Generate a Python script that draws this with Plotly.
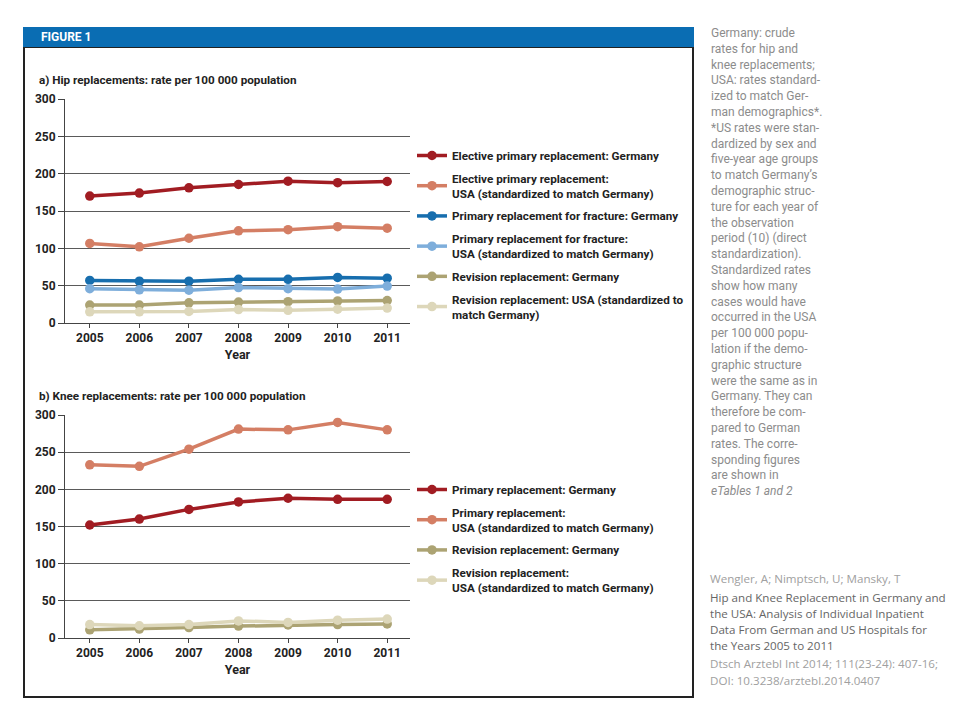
import plotly.graph_objects as go

# ---------------- data ----------------
years = [2005, 2006, 2007, 2008, 2009, 2010, 2011]

hip_elective_de = [170, 174, 181, 185.5, 190, 188, 189.5]
hip_elective_us = [106.5, 102, 113.5, 123.5, 125, 129, 127]
hip_fracture_de = [57, 56, 56, 58.5, 58.5, 61, 60]
hip_fracture_us = [46, 44.5, 44, 47.5, 46, 45.5, 49.5]
hip_revision_de = [24, 24, 27, 28, 28.5, 29.5, 30]
hip_revision_us = [15, 15, 15.5, 18, 17, 18.5, 20]

knee_primary_de = [152, 160, 173, 183, 188, 186.5, 186.5]
knee_primary_us = [233, 231, 254, 281, 280, 290, 280]
knee_revision_de = [11, 12, 14, 16, 17.5, 18, 19]
knee_revision_us = [18, 16.5, 18, 23, 21, 24, 25.5]

hip_names = [
    "Elective primary replacement: Germany",
    "Elective primary replacement:<br>USA (standardized to match Germany)",
    "Primary replacement for fracture: Germany",
    "Primary replacement for fracture:<br>USA (standardized to match Germany)",
    "Revision replacement: Germany",
    "Revision replacement: USA (standardized to<br>match Germany)",
]
knee_names = [
    "Primary replacement: Germany",
    "Primary replacement:<br>USA (standardized to match Germany)",
    "Revision replacement: Germany",
    "Revision replacement:<br>USA (standardized to match Germany)",
]

side_lines = [
    "Germany: crude", "rates for hip and", "knee replacements;",
    "USA: rates standard-", "ized to match Ger-", "man demographics*.",
    "*US rates were stan-", "dardized by sex and", "five-year age groups",
    "to match Germany’s", "demographic struc-", "ture for each year of",
    "the observation", "period (10) (direct", "standardization).",
    "Standardized rates", "show how many", "cases would have",
    "occurred in the USA", "per 100 000 popu-", "lation if the demo-",
    "graphic structure", "were the same as in", "Germany. They can",
    "therefore be com-", "pared to German", "rates. The corre-",
    "sponding figures", "are shown in", "<i>eTables 1 and 2</i>",
]

cite_authors = "Wengler, A; Nimptsch, U; Mansky, T"
cite_title = [
    "Hip and Knee Replacement in Germany and",
    "the USA: Analysis of Individual Inpatient",
    "Data From German and US Hospitals for",
    "the Years 2005 to 2011",
]
cite_source = ["Dtsch Arztebl Int 2014; 111(23-24): 407-16;",
               "DOI: 10.3238/arztebl.2014.0407"]

# ---------------- style ----------------
W, H = 960, 720
OFF = 8  # page body margin offset of the rendered figure
FB = "Roboto, Liberation Sans, sans-serif"
C_DRED = "#a11c22"
C_SALMON = "#d47e64"
C_BLUE = "#176eae"
C_LBLUE = "#7eaedb"
C_OLIVE = "#aca373"
C_BEIGE = "#ddd7ba"


def px(x):
    return (x - OFF) / W


def py(y):
    return 1 - (y - OFF) / H


fig = go.Figure()

hip_series = [hip_elective_de, hip_elective_us, hip_fracture_de,
              hip_fracture_us, hip_revision_de, hip_revision_us]
hip_colors = [C_DRED, C_SALMON, C_BLUE, C_LBLUE, C_OLIVE, C_BEIGE]
for i in range(6):
    fig.add_trace(go.Scatter(
        x=years, y=hip_series[i], name=hip_names[i], mode="lines+markers",
        line=dict(color=hip_colors[i], width=3.5),
        marker=dict(color=hip_colors[i], size=9.5),
        xaxis="x", yaxis="y", legend="legend",
        legendgroup="h%d" % i, legendrank=i + 1,
    ))

knee_series = [knee_primary_de, knee_primary_us, knee_revision_de, knee_revision_us]
knee_colors = [C_DRED, C_SALMON, C_OLIVE, C_BEIGE]
for i in range(4):
    fig.add_trace(go.Scatter(
        x=years, y=knee_series[i], name=knee_names[i], mode="lines+markers",
        line=dict(color=knee_colors[i], width=3.5),
        marker=dict(color=knee_colors[i], size=9.5),
        xaxis="x2", yaxis="y2", legend="legend2",
        legendgroup="k%d" % i, legendrank=i + 1,
    ))

xcommon = dict(
    range=[2004.5, 2011.46], tickvals=years, showgrid=False, zeroline=False,
    showline=True, linecolor="#444", linewidth=1,
    ticks="outside", ticklen=4, tickcolor="#444",
    tickfont=dict(family=FB, size=12, color="#222", weight="bold"),
    title=dict(text="Year", standoff=5,
               font=dict(family=FB, size=12.5, color="#222", weight="bold")),
    domain=[px(65), px(410)], fixedrange=True, automargin=False,
)
ycommon = dict(
    range=[0, 300], dtick=50, showgrid=True, gridcolor="#5a5a5a", gridwidth=1,
    zeroline=False, showline=True, linecolor="#444", linewidth=1,
    ticks="outside", ticklen=6, tickcolor="#444",
    tickfont=dict(family=FB, size=12, color="#222", weight="bold"),
    fixedrange=True, automargin=False,
)

legcommon = dict(
    xanchor="left", yanchor="top", bgcolor="rgba(0,0,0,0)",
    font=dict(family=FB, size=11.7, color="#222", weight="bold"),
    itemwidth=30, traceorder="grouped", tracegroupgap=4,
)

fig.update_layout(
    width=W, height=H, autosize=False,
    margin=dict(l=0, r=0, t=0, b=0, pad=0, autoexpand=False),
    paper_bgcolor="white", plot_bgcolor="white",
    xaxis=dict(xcommon, anchor="y"),
    yaxis=dict(ycommon, domain=[py(323), py(99)], anchor="x"),
    xaxis2=dict(xcommon, anchor="y2"),
    yaxis2=dict(ycommon, domain=[py(638), py(415)], anchor="x2"),
    legend=dict(legcommon, x=px(412), y=py(141)),
    legend2=dict(legcommon, x=px(412), y=py(475)),
)

# frame and header
fig.add_shape(type="rect", xref="paper", yref="paper",
              x0=px(24), x1=px(693), y0=py(697), y1=py(47),
              line=dict(color="#222", width=2), fillcolor="rgba(0,0,0,0)", layer="below")
fig.add_shape(type="rect", xref="paper", yref="paper",
              x0=px(23), x1=px(694), y0=py(47), y1=py(27),
              line=dict(width=0), fillcolor="#0a6db3", layer="below")

annos = []
annos.append(dict(text="FIGURE 1", x=px(39), y=py(37.5), xanchor="left", yanchor="middle",
                  font=dict(family=FB, size=12, color="white", weight="bold")))
annos.append(dict(text="a) Hip replacements: rate per 100 000 population",
                  x=px(37), y=py(80), xanchor="left", yanchor="middle",
                  font=dict(family=FB, size=11.7, color="#222", weight="bold")))
annos.append(dict(text="b) Knee replacements: rate per 100 000 population",
                  x=px(37), y=py(396), xanchor="left", yanchor="middle",
                  font=dict(family=FB, size=11.7, color="#222", weight="bold")))

for i, line in enumerate(side_lines):
    annos.append(dict(text=line, x=px(709), y=py(33 + i * 15.8), xanchor="left",
                      yanchor="middle",
                      font=dict(family=FB, size=12, color="#8c8c8c")))

FC = "Open Sans, Lato, sans-serif"
annos.append(dict(text=cite_authors, x=px(708), y=py(578), xanchor="left", yanchor="middle",
                  font=dict(family=FC, size=11.6, color="#a0a0a0")))
for i, line in enumerate(cite_title):
    annos.append(dict(text=line, x=px(708), y=py(597 + i * 16), xanchor="left",
                      yanchor="middle", font=dict(family=FC, size=11.6, color="#666666")))
for i, line in enumerate(cite_source):
    annos.append(dict(text=line, x=px(708), y=py(663 + i * 17), xanchor="left",
                      yanchor="middle", font=dict(family=FC, size=11.6, color="#a0a0a0")))

for a in annos:
    a["showarrow"] = False
    a["xref"] = "paper"
    a["yref"] = "paper"
fig.update_layout(annotations=annos)

fig.write_html("out.html")
